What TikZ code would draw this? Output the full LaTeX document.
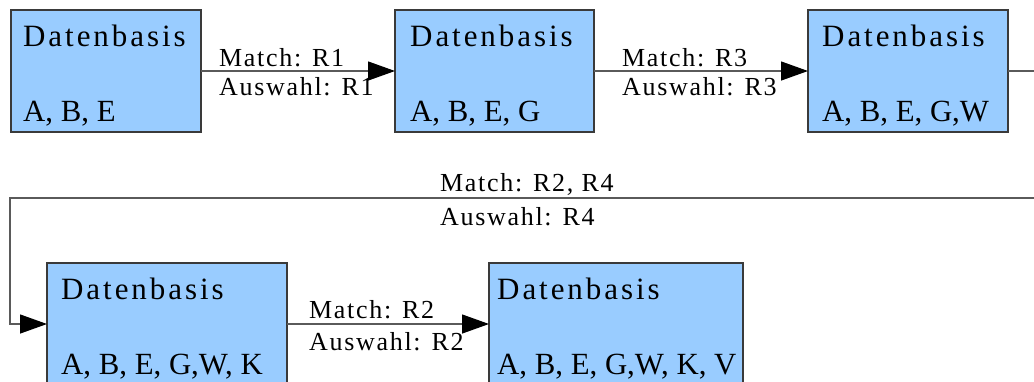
\documentclass[tikz,border=0pt]{standalone}
\usepackage{fontspec}
\setmainfont{Liberation Serif}
\newfontfamily\spaced[LetterSpace=9.5]{Liberation Serif}
\newfontfamily\lblspaced[LetterSpace=6.5]{Liberation Serif}
\usetikzlibrary{arrows.meta}
\definecolor{boxfill}{HTML}{99CCFF}
\definecolor{boxline}{HTML}{3A3A3A}
\definecolor{flowline}{HTML}{5A5A5A}
\begin{document}
\begin{tikzpicture}[x=1pt,y=-1pt,
  dbox/.style={draw=boxline, fill=boxfill, line width=1.2pt, rectangle,
    inner sep=0pt, outer sep=0pt, minimum height=122pt, anchor=north west},
  title/.style={anchor=base west, inner sep=0pt, font=\spaced\fontsize{31}{36}\selectfont},
  facts/.style={anchor=base west, inner sep=0pt, font=\fontsize{30.8}{36}\selectfont},
  lbl/.style={anchor=base west, inner sep=0pt, font=\lblspaced\fontsize{26}{30}\selectfont},
  flow/.style={draw=flowline, line width=1.3pt,
    -{Triangle[length=27pt,width=19pt,color=black,fill=black]}}]
\useasboundingbox (0,0) rectangle (1034,381);
\clip (0,0) rectangle (1034,381);

% knowledge-base states
\node[dbox, minimum width=190pt] (b1) at (11,10) {};
\node[dbox, minimum width=199pt] (b2) at (395,10) {};
\node[dbox, minimum width=200pt] (b3) at (808,10) {};
\node[dbox, minimum width=240pt] (b4) at (47,263) {};
\node[dbox, minimum width=254pt] (b5) at (489,263) {};

\node[title] (h1) at (23,46) {Datenbasis};
\node[facts] (f1) at (23,121) {A, B, E};
\node[title] (h2) at (410,46) {Datenbasis};
\node[facts] (f2) at (410,121) {A, B, E, G};
\node[title] (h3) at (822,46) {Datenbasis};
\node[facts] (f3) at (822,121) {A, B, E, G,W};
\node[title] (h4) at (61,299) {Datenbasis};
\node[facts] (f4) at (61,374) {A, B, E, G,W, K};
\node[title] (h5) at (497,299) {Datenbasis};
\node[facts] (f5) at (497,374) {A, B, E, G,W, K, V};

% transitions
\draw[flow] (b1.east) -- (b2.west);
\draw[flow] (b2.east) -- (b3.west);
\coordinate (turnR) at (1060,198);
\coordinate (turnL) at (10,198);
\draw[flow] (b3.east) -| (turnR) -- (turnL) |- (b4.west);
\draw[flow] (b4.east) -- (b5.west);

% transition labels
\node[lbl] (m1) at (219,66) {Match: R1};
\node[lbl] (a1) at (219,95) {Auswahl: R1};
\node[lbl] (m2) at (622,66) {Match: R3};
\node[lbl] (a2) at (622,95) {Auswahl: R3};
\node[lbl] (m3) at (440,191) {Match: R2, R4};
\node[lbl] (a3) at (440,225) {Auswahl: R4};
\node[lbl] (m4) at (309,318) {Match: R2};
\node[lbl] (a4) at (309,350) {Auswahl: R2};
\end{tikzpicture}
\end{document}
